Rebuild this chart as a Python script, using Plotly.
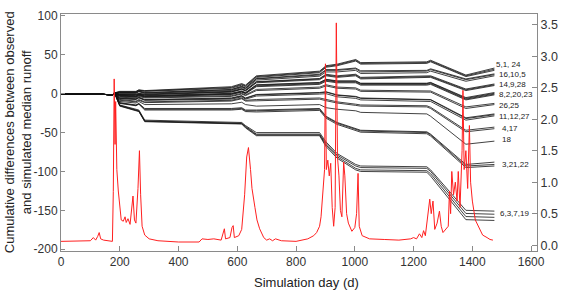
import plotly.graph_objects as go

# ---------------- data ----------------
knot_days = [0, 100, 175, 182, 200, 255, 265, 285, 580, 615, 628, 665, 880, 902, 940, 1003, 1020, 1245, 1258, 1378, 1475]

c_5a = [0, 0, -1.5, 1, 3, 3, 5, 4, 9, 13, 11, 23, 29, 36, 38, 44, 40, 41, 43, 24, 33]
c_1 = [0, 0, -1.5, 1, 2.5, 2.5, 4.5, 3.5, 8, 12, 10, 22, 28, 35, 37, 43, 39, 40, 42, 23, 31.5]
c_24 = [0, 0, -1.5, 1, 2, 2, 4, 3, 7, 11, 9, 21, 27, 34, 36, 42, 38, 39, 41, 22, 30]
c_16 = [0, 0, -1.5, 1, 1.5, 1.5, 3.5, 1.5, 5.5, 9.5, 7.5, 19.5, 25, 31, 31, 33, 29.5, 30, 32, 19, 25.5]
c_10 = [0, 0, -1.5, 1, 1, 1, 3, 1, 5, 9, 7, 19, 24, 30, 30, 32, 28, 29, 31, 18, 24.5]
c_5b = [0, 0, -1.5, 1, 0.5, 0.5, 2.5, 0.5, 4, 8, 6, 17.5, 22.5, 28, 28, 30, 26, 27, 29, 16, 23]
c_14 = [0, 0, -1.5, 1, -0.5, -0.5, 0.5, -0.5, 3, 6.5, 4.5, 15.5, 19.5, 25, 23, 25, 21, 22, 23, 6, 12.5]
c_9 = [0, 0, -1.5, 1, -1, -1, 0, -1, 2.5, 6, 4, 15, 19, 24, 22, 24, 20, 21, 22, 5, 11.5]
c_28 = [0, 0, -1.5, 1, -1.5, -1.5, -0.5, -1.5, 2, 5.5, 3.5, 14, 18, 23, 21, 23, 19, 20, 21, 4, 10.5]
c_8 = [0, 0, -1.5, 1, -1.5, -2.5, -0.5, -2.5, 0.5, 3.5, 1.5, 11.5, 14.5, 18.5, 16.5, 16.5, 13.5, 13.5, 14.5, -5, 1.5]
c_2 = [0, 0, -1.5, 1, -2, -3, -1, -3, 0, 3, 1, 11, 14, 18, 16, 16, 13, 13, 14, -6, 0.5]
c_20 = [0, 0, -1.5, 1, -2.5, -3.5, -1.5, -3.5, -0.5, 2.5, 0.5, 10, 13, 17, 15, 15, 12, 12, 13, -7, -0.5]
c_23 = [0, 0, -1.5, 1, -3, -4, -2, -4, -1, 2, 0, 9, 12, 16, 14, 14, 11, 11, 12, -8, -1.5]
c_26 = [0, 0, -1.5, 1, -3.5, -4.5, -2.5, -4.5, -2.5, 0.5, -1.5, 5.5, 8.5, 11.5, 8.5, 7.5, 4.5, 3.5, 3.5, -17, -12.5]
c_25 = [0, 0, -1.5, 1, -4.5, -5.5, -3.5, -5.5, -3.5, -0.5, -2.5, 4, 7, 10, 7, 6, 3, 2, 2, -19, -14]
c_11 = [0, 0, -1.5, 1, -5.5, -6.5, -4.5, -7.5, -5.5, -2.5, -5.5, -1, 1.5, 2.5, -1.5, -3.5, -5.5, -6.5, -7.5, -31, -26]
c_12 = [0, 0, -1.5, 1, -6, -7, -5, -8, -6, -3, -6, -1.5, 1, 2, -2, -4, -6, -7, -8, -32, -27]
c_27 = [0, 0, -1.5, 1, -6.5, -7.5, -5.5, -8.5, -7, -4, -7, -3, -0.5, 0, -4, -6, -8, -9, -10, -34, -28.5]
c_4 = [0, 0, -1.5, 1, -7.5, -9.5, -7.5, -10.5, -8.5, -5.5, -8.5, -7.5, -5.5, -7.5, -10.5, -13.5, -14.5, -15.5, -17.5, -47, -43]
c_17 = [0, 0, -1.5, 1, -8.5, -10.5, -8.5, -11.5, -9.5, -6.5, -9.5, -9, -7, -9, -12, -15, -16, -17, -19, -49, -45]
c_18 = [0, 0, -1.5, 1, -10, -12, -10, -14, -13, -11, -14, -16, -14, -18, -20, -22, -24, -26, -29, -65, -61]
c_3a = [0, 0, -1.5, 1, -11.5, -14.5, -12.5, -19, -19, -18, -21, -21, -19, -29, -37, -45, -47, -49, -52, -91, -88]
c_21 = [0, 0, -1.5, 1, -12, -15, -13, -20, -20, -19, -22, -22, -20, -30, -38, -46, -48, -50, -53, -93, -91]
c_22 = [0, 0, -1.5, 1, -12.5, -15.5, -13.5, -21, -21, -20, -23, -23.5, -21.5, -31.5, -39.5, -47.5, -49.5, -51.5, -54.5, -95, -93]
c_6 = [0, 0, -1.5, 1, -14.5, -20, -21, -34, -36, -37, -41, -50, -50, -62, -77, -91, -93, -94, -98, -150, -151]
c_3b = [0, 0, -1.5, 1, -15, -21, -22, -35, -37, -38, -42, -52, -52, -64, -79, -93, -95, -96, -100, -154, -155]
c_7 = [0, 0, -1.5, 1, -15.5, -21.5, -22.5, -35.5, -37.5, -38.5, -43, -53, -53, -66, -81, -96, -98, -99, -103, -158, -159]
c_19 = [0, 0, -1.5, 1, -16, -22, -23, -36, -38, -39, -44, -54, -54, -68, -83, -98, -100, -101, -106, -162, -163]

curves = [c_5a, c_1, c_24, c_16, c_10, c_5b, c_14, c_9, c_28, c_8, c_2, c_20, c_23,
          c_26, c_25, c_11, c_12, c_27, c_4, c_17, c_18, c_3a, c_21, c_22,
          c_6, c_3b, c_7, c_19]

group_labels = ["5,1, 24", "16,10,5", "14,9,28", "8,2,20,23", "26,25", "11,12,27",
                "4,17", "18", "3,21,22", "6,3,7,19"]
label_day = [1472, 1485, 1485, 1485, 1485, 1485, 1493, 1493, 1493, 1488]
label_value = [37, 24.5, 12, -0.7, -15, -28.8, -44.8, -59.5, -90.5, -154.7]

runoff_day = [0, 100, 110, 118, 125, 130, 135, 145, 175, 178, 181, 184, 186, 190, 195, 200, 205,
              212, 218, 222, 228, 235, 240, 245, 250, 255, 262, 267, 271, 276, 285, 300, 330,
              400, 470, 480, 500, 520, 545, 556, 560, 575, 582, 586, 590, 605, 615, 625, 632,
              638, 645, 650, 660, 667, 676, 690, 700, 710, 720, 730, 750, 800, 840, 860, 870,
              880, 885, 892, 897, 900, 903, 908, 913, 918, 923, 928, 933, 937, 941, 946, 951,
              956, 962, 966, 972, 978, 990, 1000, 1006, 1011, 1015, 1025, 1050, 1100, 1150,
              1190, 1200, 1210, 1220, 1228, 1234, 1240, 1248, 1255, 1260, 1266, 1272, 1280,
              1288, 1294, 1300, 1310, 1318, 1322, 1326, 1330, 1336, 1342, 1348, 1352, 1358,
              1365, 1368, 1372, 1378, 1384, 1390, 1394, 1400, 1410, 1420, 1435, 1450, 1460, 1470]
runoff_value = [0.06, 0.07, 0.12, 0.08, 0.14, 0.2, 0.1, 0.08, 0.06, 0.85, 2.64, 1.6, 2.28, 1.2, 0.86, 0.6, 0.4,
                0.38, 0.45, 0.36, 0.42, 0.33, 0.55, 0.78, 0.4, 0.35, 0.9, 1.5, 0.8, 0.3, 0.16, 0.1, 0.07,
                0.05, 0.05, 0.1, 0.09, 0.1, 0.08, 0.26, 0.1, 0.12, 0.28, 0.31, 0.12, 0.15, 0.25, 0.8, 1.4,
                1.55, 1.2, 0.9, 0.6, 0.4, 0.26, 0.12, 0.08, 0.1, 0.07, 0.1, 0.07, 0.06, 0.1, 0.15, 0.2,
                0.3, 0.45, 0.9, 1.2, 2.88, 1.2, 1.35, 1.1, 1.3, 0.6, 0.3, 0.6, 3.53, 1.4, 1.1, 0.55,
                0.45, 1.32, 1.1, 0.5, 0.35, 0.22, 0.28, 0.5, 1.14, 0.3, 0.15, 0.1, 0.09, 0.08,
                0.1, 0.12, 0.1, 0.18, 0.12, 0.23, 0.15, 0.5, 0.73, 0.5, 0.7, 0.25, 0.35,
                0.54, 0.3, 0.2, 0.25, 0.3, 0.86, 0.5, 1.17, 0.8, 1.0, 0.7, 1.17, 0.6,
                1.5, 2.46, 1.2, 1.5, 0.9, 1.9, 1.0, 0.7, 0.4, 0.3, 0.16, 0.12, 0.09, 0.08]

x_ticks = [0, 200, 400, 600, 800, 1000, 1200, 1400, 1600]
y_ticks = [100, 50, 0, -50, -100, -150, -200]
y_tick_text = ["100", "50", "0", "-50", "-100", "-150", "-200"]
y2_ticks = [0.0, 0.5, 1.0, 1.5, 2.0, 2.5, 3.0, 3.5]
y2_tick_text = ["0.0", "0.5", "1.0", "1.5", "2.0", "2.5", "3.0", "3.5"]

# ---------------- figure ----------------
FONT = "Liberation Sans, Arial, sans-serif"
AXIS_COLOR = "#8a8a8a"

fig = go.Figure()
for c in curves:
    fig.add_trace(go.Scatter(x=knot_days, y=c, mode="lines",
                             line=dict(color="#111111", width=0.8),
                             hoverinfo="skip", showlegend=False, yaxis="y"))

fig.add_trace(go.Scatter(x=runoff_day, y=runoff_value, mode="lines",
                         line=dict(color="#ff2020", width=1),
                         hoverinfo="skip", showlegend=False, yaxis="y2"))

annotations = []
for t, d, v in zip(group_labels, label_day, label_value):
    annotations.append(dict(x=d, y=v, xref="x", yref="y", text=t, showarrow=False,
                            xanchor="left", yanchor="middle",
                            font=dict(family=FONT, size=8, color="#222")))

annotations.append(dict(x=-0.091, y=0.5, xref="paper", yref="paper",
                        text="Cumulative differences between observed<br>and simulated median runoff",
                        textangle=-90, showarrow=False, xanchor="center", yanchor="middle",
                        font=dict(family=FONT, size=13, color="#222")))
annotations.append(dict(x=0.516, y=-0.132, xref="paper", yref="paper",
                        text="Simulation day (d)", showarrow=False,
                        xanchor="center", yanchor="middle",
                        font=dict(family=FONT, size=13, color="#222")))

fig.update_layout(
    width=567, height=292,
    margin=dict(l=61, r=24, t=9, b=41),
    plot_bgcolor="white", paper_bgcolor="white",
    font=dict(family=FONT, size=12, color="#333"),
    xaxis=dict(range=[0, 1620], tickvals=x_ticks, ticks="inside", ticklen=5,
               tickcolor=AXIS_COLOR, showline=True, linecolor=AXIS_COLOR, linewidth=1,
               mirror=True, showgrid=False, zeroline=False,
               tickfont=dict(family=FONT, size=12, color="#333")),
    yaxis=dict(range=[-202.3, 102.5], tickvals=y_ticks, ticktext=y_tick_text,
               ticks="inside", ticklen=4, tickcolor=AXIS_COLOR,
               showline=True, linecolor=AXIS_COLOR, linewidth=1,
               showgrid=False, zeroline=False,
               tickfont=dict(family=FONT, size=12, color="#333")),
    yaxis2=dict(range=[-0.093, 3.671], tickvals=y2_ticks, ticktext=y2_tick_text,
                overlaying="y", side="right", ticks="inside", ticklen=5,
                tickcolor=AXIS_COLOR, showline=True, linecolor=AXIS_COLOR, linewidth=1,
                showgrid=False, zeroline=False,
                tickfont=dict(family=FONT, size=12.5, color="#333")),
    annotations=annotations,
)

fig.write_html("out.html",
               config={"displayModeBar": False, "staticPlot": True},
               post_script="document.body.style.margin='0';document.body.style.padding='0';")
